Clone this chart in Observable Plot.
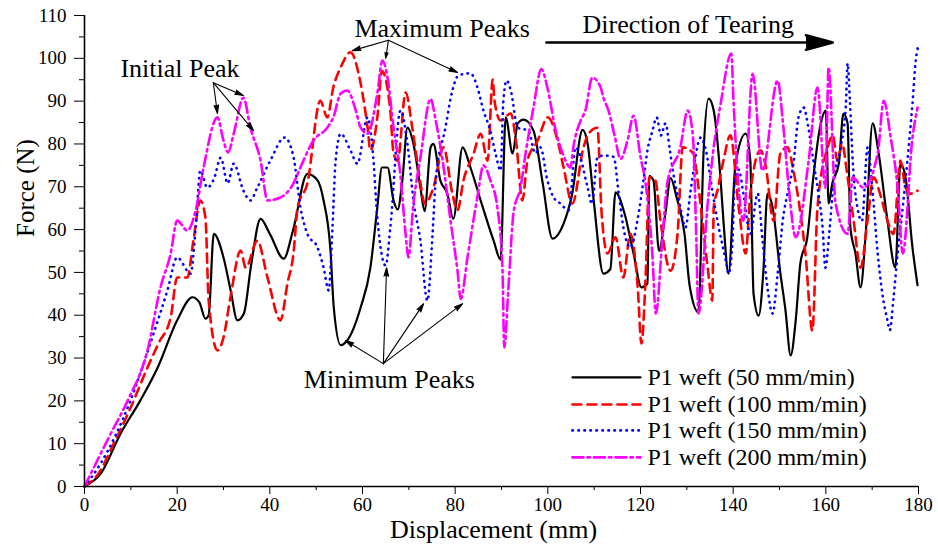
<!DOCTYPE html>
<html>
<head>
<meta charset="utf-8">
<script src="https://cdn.jsdelivr.net/npm/d3@7"></script>
<script src="https://cdn.jsdelivr.net/npm/@observablehq/plot@0.6"></script>
<style>
  html, body { margin: 0; padding: 0; background: #fff; }
  svg { display: block; }
</style>
</head>
<body>
<div id="chart"></div>
<script>
// ---------- data ----------
const seriesLabels = ["P1 weft (50 mm/min)", "P1 weft (100 mm/min)", "P1 weft (150 mm/min)", "P1 weft (200 mm/min)"];

const x50 = [0,3.5,7.8,12,15.8,20,23.3,24.8,26.1,26.8,27.9,30,31.5,33,34.4,36,38,40,43,45,48.1,50.3,51.6,53.1,53.8,55.3,56.7,59.6,61.7,63.2,64.2,65.4,66.7,67.6,68.6,69.7,71,72.5,73.4,74.7,75.3,76.8,78.3,79.6,81.6,83.3,85.5,88.3,89.8,90.9,92.4,93.5,94.8,96.9,98.9,101,103.4,105.2,107.5,108.6,109.9,112,113.5,114.6,116.5,118.5,120.2,121.5,121.9,122.8,124,125.4,126.5,127.8,129.5,130.6,132.5,133.6,134.7,135.8,137.3,137.9,139,140.5,142.7,143.7,144.4,145.5,146.5,147.4,148.5,150.2,151.3,152.4,153.5,154.5,156,157.3,158.9,160,160.6,161.4,162.8,163.8,164.7,165.3,166.4,167.5,168.6,170.1,171.4,173.3,175,176.1,177.2,178.7,179.8];
const y50 = [0,3,12.4,20,27.8,38.8,44.2,43,39.2,40,59,53.5,46,38.8,40.4,52,62.5,59,53.2,59.8,73,71.5,66.8,55,41.8,33,34.1,41.8,51.1,65.2,74.5,74.5,66.8,64.7,71.5,83.8,80,69.8,64.3,79.2,80,71.5,68.4,62.5,79.2,74.5,66.8,57.4,53,86.2,77.8,84.8,85.7,83.1,70.8,57.9,61.4,68,83.3,80,66.8,49.7,50.8,68.7,64,54.4,46.5,47.4,72.5,71.5,55,64,72,67.5,59,47,40.7,77.8,90.6,87.8,71.5,62.1,49.7,75.3,82.4,76.1,45,39.9,50,68.4,65.2,49.7,41.1,30.6,38.8,52.1,58.2,72.2,84.8,87.8,66.1,70.8,75.4,87.1,84.8,60.5,54.4,46.5,59,84.8,77.8,62.1,51.1,75.4,72.2,55.8,47];

const x100 = [0,3,6.3,10,13.6,16,18.6,20,22.2,23.5,25,26.1,26.8,28.7,30,31.5,33.7,34.8,37.3,39.5,42.3,43.8,45.1,46,48.1,50.9,52.4,53.7,55.3,57.4,59.6,61.1,61.7,63.2,64.2,66,66.7,67.6,69.3,70.8,72.1,73.5,75.3,77.5,79.4,80.5,81.8,84,85.5,87,88.1,88.5,89.8,92,93.2,94.5,95.6,97.8,100,102.1,103.4,105.3,107.7,108.8,110.7,111.6,112.9,114.6,116.3,117.8,119.4,120.2,121.1,121.9,123.2,124.3,126.5,128,129.1,131.4,132.5,134.5,135.5,135.8,136.6,137.9,139.4,141.2,142.7,143.7,145.9,147,148.7,150.2,151.7,153,154.5,155.6,157.1,158.2,160.4,161.5,162.5,163.5,164.7,166,167.5,169,170.3,171.8,173.3,174.6,176.1,177.2,178.3,179.8];
const y100 = [0,3,10,18.5,27.8,33.5,39.5,48.8,48.8,57.4,66.8,62.8,43.4,31.8,34.8,44.2,55.1,51.1,57.4,48.8,38.8,47.4,54.4,65.2,70.8,90.1,86.2,93.2,97.9,101.4,94.1,83.8,78.5,86.2,97,87.8,77.8,76.1,92,83.4,73.8,66,69.8,79.2,68.4,64.5,71.5,77.8,82.4,76.1,95,90,85.5,87.1,80,66.8,76.1,80.8,86.2,80.8,74.5,66.1,79.2,82.4,83.8,64,54.4,58.2,48.8,59,46.5,33.4,48.8,72.2,71.5,62.1,50.4,59,79.2,77.8,70,51.1,43.4,65.2,69.1,76.1,82,65.2,54.4,68.4,78.5,75,62.1,77.8,79.2,73.8,64,54.4,36.4,65.2,79.2,82,76.1,80,72.2,62.1,51.1,62.1,72.2,68,62.1,59,76.1,69.8,68.4,69.1];

const x150 = [0,3.5,9.9,14.9,17.9,20,22.9,24,25,26.5,28,29.4,30.9,32.2,34.3,35.8,37.3,40.1,43.2,45.1,46.6,48.1,50.3,51.6,52.7,53.5,54.2,55.3,57.4,58.9,61.1,62.2,63.2,65,66,68.2,69.7,71,72.5,74,75.1,75.8,77.9,79.4,80.7,83.3,84.8,86.1,87.6,88.7,89.8,90.4,91.1,92,93.5,95.8,97.3,98.4,99.9,101.2,102.7,104.5,106,108.6,109.5,110.7,112,114.2,115.3,116.3,117.8,119.4,120.7,121.5,122.6,123.5,124.4,125.4,126.3,127.1,128.6,129.7,130.8,133,134,135.6,136.6,138.4,139,139.9,140.3,141.2,142.2,143.7,145.3,146.3,147.4,148.5,149.6,150.7,152,153,154.1,155.2,156.2,157.3,158.4,159.3,159.9,160.8,161.7,163.2,164.3,164.7,165.2,165.8,166.8,167.8,169,170,171.2,172.2,173.3,173.8,174.6,175.5,176.6,177.6,178.7,179.4,180];
const y150 = [0,5.4,20,35.7,45.8,53.5,49.7,60.5,73.8,69.8,72,76.8,70.8,75.4,69.1,66.8,69.8,76.1,81.5,77,65.2,59,55.8,51.1,45.8,60,76.1,82.4,78.5,75.4,86.2,78.5,62.8,51.6,60.5,87.8,80,66.8,57.4,43.4,58.6,71.5,83.8,92.5,96,96.5,93.2,87.8,83.1,77.8,73.8,90,94.8,92.5,83.8,83.1,77.8,79.2,71.5,67.6,66.1,64.5,79.2,69.8,66,76.8,77.3,77,68.4,60.5,55.8,62.5,72,78.5,83.1,86.2,82,84.8,78.8,73,65.2,60.5,69,81.5,79,68.4,62.1,52.8,49.7,58.2,71.5,74,68.4,59,68.4,58,46.5,40.4,49.7,62.1,69.8,75.4,86.2,88.5,84,76.1,68.4,60.5,51.1,60,71.5,79.2,88.5,98.8,90,76.1,65.2,62,79.2,70,54.4,45,38.8,36.5,44,54.4,65.2,76.1,89.4,99.5,103];

const x200 = [0,2,5.5,9.3,13.6,16.4,18.6,20,22.2,24,25.7,28.7,30,31,32.2,34.3,35.8,38,39.5,42.3,45.1,46.6,49.4,52.4,53.7,55.3,56.7,58.5,59.6,61.1,63.2,64.3,65.4,66.7,68.2,69.3,69.9,71,72.5,74.7,75.8,77.3,79,80.5,81.2,82.7,84.8,86.1,87.6,89.1,90.2,90.6,91.5,92.6,94.1,95.3,96.9,98.6,99.9,101.7,103.3,104.9,105.5,107.1,108.1,109.6,111.4,112,113.1,114.4,115.7,117.2,118.5,120,121.1,122.6,123.3,124.8,125.8,128.6,130.2,131.3,132,132.5,134.5,135.8,137.3,139.6,140.1,142.2,144.2,146.3,149.6,150.7,152,153.5,156.3,158.2,159.9,160.6,162.1,164.7,165.8,168.1,171.2,172.5,174,175.5,176.6,178.7,179.8];
const y200 = [0,4.4,12,20,31.8,46.5,54.4,62.1,59.8,64.5,74.5,86.2,80.8,78,82.4,90.8,83.8,76.1,66.8,67.5,70.8,74.5,80.8,83.8,86.2,91.8,92.5,88,83.8,82.4,91.8,99.5,95.5,83.8,72.5,59,53.5,66.1,76.8,90.5,85.5,76.1,62.1,50.4,43.8,53.8,67.6,75,71.5,65.2,51.1,32.5,46.5,64,69.8,78.5,88.5,97.5,93.2,83.1,77.5,74.5,79.2,85.5,87.8,95.5,93.2,90.8,87.8,82,76.5,80.8,86.6,77,70.8,53.5,40.4,59,71,79.2,87.8,82,60,40.4,66.1,79.2,89.4,101.1,89.4,62.1,96.4,73.8,94.8,85.5,69.8,58.2,76.1,93.2,69.8,97.9,66.1,59,72.2,69.8,77.8,90.1,81.5,69.8,54.4,81.5,88.5];

// annotation text and arrows (data units)
const noteLabels = ["Initial Peak", "Maximum Peaks", "Minimum Peaks", "Direction of Tearing"];
const noteX = [20.6, 77.2, 65.8, 130.3];
const noteY = [97.6, 107, 25, 107.9];
const arrowX1 = [27.8,27.8,27.8, 65.6,65.6,65.6, 64.5,64.5,64.5,64.5];
const arrowY1 = [94.3,94.3,94.3, 104.2,104.2,104.2, 28.7,28.7,28.7,28.7];
const arrowX2 = [28.7,34.3,36.5, 57.8,65,80.5, 56.3,65.2,73.2,81.6];
const arrowY2 = [87.1,91.3,83.1, 101.8,100,96.7, 34.1,51.1,42.7,42.7];
const tearX = [99.7, 161.5];
const tearY = 103.7;

// legend placement (data units)
const legendX = [105.3, 120.0, 121.5];
const legendY = [25.5, 19.15, 13.1, 6.8];

const xTicks = d3.range(0, 181, 20);
const xMinor = d3.range(10, 180, 20);
const yTicks = d3.range(0, 111, 10);
const yMinor = d3.range(5, 110, 10);

// ---------- build ----------
const FONT = "Liberation Serif";
const styles = [
  {stroke: "#000000", strokeWidth: 2.2},
  {stroke: "#ff0000", strokeWidth: 2.6, strokeDasharray: "9,6"},
  {stroke: "#0000ff", strokeWidth: 2.6, strokeDasharray: "0.5,5.5", strokeLinecap: "round"},
  {stroke: "#ff00ff", strokeWidth: 2.6, strokeDasharray: "11,4,2.5,4"}
];
const xs = [x50, x100, x150, x200];
const ys = [y50, y100, y150, y200];
const seriesData = xs.map((xa, i) => xa.map((x, j) => ({x, y: ys[i][j]})));

const arrows = arrowX1.map((_, i) => ({x1: arrowX1[i], y1: arrowY1[i], x2: arrowX2[i], y2: arrowY2[i]}));
const notes = noteLabels.map((t, i) => ({t, x: noteX[i], y: noteY[i]}));

const marks = [];
seriesData.forEach((d, i) => {
  marks.push(Plot.line(d, {x: "x", y: "y", curve: "monotone-x", strokeLinejoin: "round", ...styles[i]}));
});
marks.push(Plot.axisX({ticks: xTicks, tickSize: 8, tickPadding: 3, fontSize: 19, fontFamily: FONT, label: null}));
marks.push(Plot.axisX({ticks: xMinor, tickSize: 4, text: null, label: null}));
marks.push(Plot.axisY({ticks: yTicks, tickSize: 10, tickPadding: 8, fontSize: 19, fontFamily: FONT, label: null}));
marks.push(Plot.axisY({ticks: yMinor, tickSize: 5, text: null, label: null}));
marks.push(Plot.ruleX([0], {strokeWidth: 1.6}));
marks.push(Plot.ruleY([0], {strokeWidth: 1.6}));
marks.push(Plot.text(["Displacement (mm)"], {frameAnchor: "bottom", dy: 51, dx: -8, fontSize: 26, fontFamily: FONT, text: d => d}));
marks.push(Plot.text(["Force (N)"], {frameAnchor: "left", dx: -59, dy: -14, rotate: -90, fontSize: 25, fontFamily: FONT, text: d => d}));
marks.push(Plot.arrow(arrows, {x1: "x1", y1: "y1", x2: "x2", y2: "y2", stroke: "#000", fill: "#000", strokeWidth: 1.1, headLength: 12, headAngle: 30}));
marks.push(Plot.arrow([{a: tearX[0], b: tearX[1], y: tearY}], {x1: "a", x2: "b", y1: "y", y2: "y", stroke: "#000", fill: "#000", strokeWidth: 2.6, headLength: 16, headAngle: 30}));
marks.push(Plot.text(notes, {x: "x", y: "y", text: "t", fontSize: 26, fontFamily: FONT, textAnchor: "middle"}));
seriesLabels.forEach((lab, i) => {
  marks.push(Plot.line([{x: legendX[0], y: legendY[i]}, {x: legendX[1], y: legendY[i]}], {x: "x", y: "y", ...styles[i]}));
  marks.push(Plot.text([lab], {x: legendX[2], y: legendY[i], text: d => d, textAnchor: "start", fontSize: 24, fontFamily: FONT}));
});

const chart = Plot.plot({
  width: 938,
  height: 553,
  marginLeft: 84,
  marginRight: 20,
  marginTop: 15,
  marginBottom: 67,
  style: {background: "#fff", color: "#000", overflow: "visible"},
  x: {domain: [0, 180], axis: null},
  y: {domain: [0, 110], axis: null},
  marks
});
chart.setAttribute("font-family", FONT);
document.getElementById("chart").append(chart);
</script>
</body>
</html>
